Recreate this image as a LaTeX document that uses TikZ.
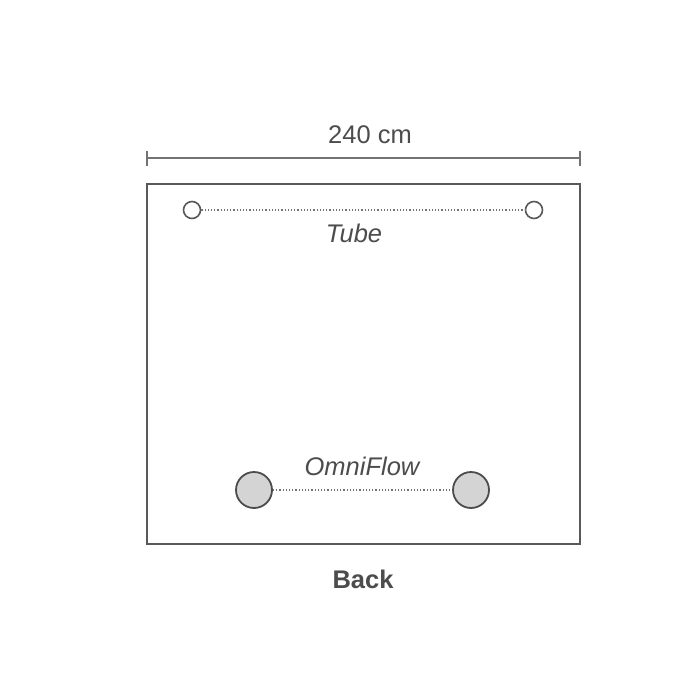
\documentclass[tikz,border=0pt]{standalone}
\usepackage{fontspec}
\setmainfont{Liberation Sans}
\begin{document}
\begin{tikzpicture}[x=1pt,y=-1pt,
  line/.style={draw=black!65,line width=1.6pt},
  dim/.style={draw=black!55,line width=1.2pt},
  dots/.style={draw=black!55,line width=1.2pt,dotted},
  small/.style={circle,draw=black!65,line width=1.6pt,fill=white,minimum size=17pt,inner sep=0pt},
  big/.style={circle,draw=black!70,line width=1.8pt,fill=black!17,minimum size=36pt,inner sep=0pt},
  lbl/.style={text=black!70,font=\fontsize{25.5}{28}\selectfont}]
\useasboundingbox[fill=white] (0,0) rectangle (700,700);
\draw[line] (147,184) rectangle (580,544);
\coordinate (dl) at (147,158);
\coordinate (dr) at (580,158);
\draw[dim] (dl) -- (dr);
\draw[dim] (147,151) -- (147,166);
\draw[dim] (580,151) -- (580,166);
\node[lbl] (w) at (370,135) {240 cm};
\node[small] (t1) at (192,210) {};
\node[small] (t2) at (534,210) {};
\draw[dots] (t1) -- (t2);
\node[lbl,font=\itshape\fontsize{25.5}{28}\selectfont] (tube) at (354,233) {Tube};
\node[big] (o1) at (254,490) {};
\node[big] (o2) at (471,490) {};
\draw[dots] (o1) -- (o2);
\node[lbl,font=\itshape\fontsize{25.5}{28}\selectfont] (omni) at (362,466) {OmniFlow};
\node[lbl,font=\bfseries\fontsize{25.5}{28}\selectfont] (back) at (363,579) {Back};
\end{tikzpicture}
\end{document}
